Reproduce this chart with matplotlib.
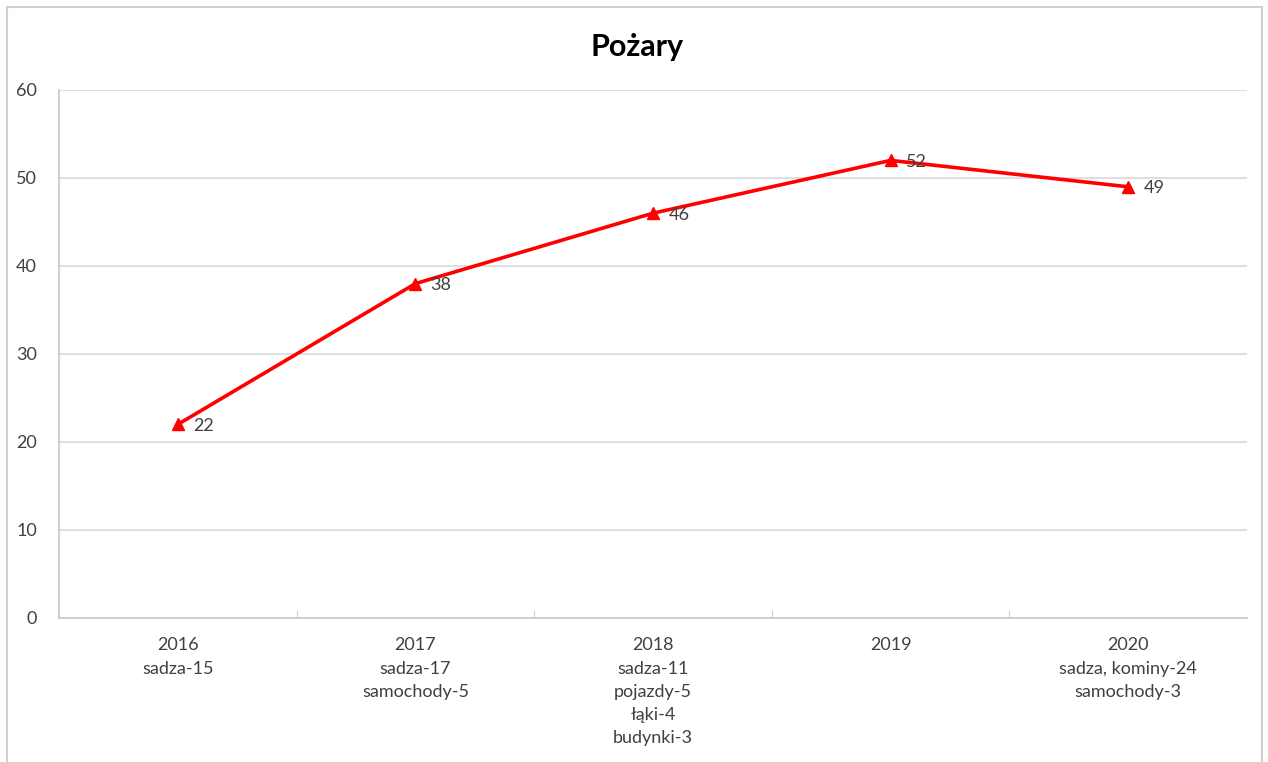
import matplotlib.pyplot as plt
from matplotlib.patches import Rectangle

# dane
lata = ['2016', '2017', '2018', '2019', '2020']
opisy = [
    'sadza-15',
    'sadza-17\nsamochody-5',
    'sadza-11\npojazdy-5\nłąki-4\nbudynki-3',
    '',
    'sadza, kominy-24\nsamochody-3',
]
pozary = [22, 38, 46, 52, 49]

plt.rcParams['font.family'] = ['Lato', 'DejaVu Sans']

fig = plt.figure(figsize=(12.68, 7.62), dpi=100)
ax = fig.add_axes([59 / 1268, 1 - 618 / 762, 1188 / 1268, 528 / 762])

# ramka wokół wykresu
fig.patches.append(Rectangle((7 / 1268, -0.01), 1255 / 1268, 1 - 7 / 762 + 0.01,
                             transform=fig.transFigure, fill=False,
                             edgecolor='#d0d0d0', linewidth=1.5))

x = list(range(len(lata)))
ax.plot(x, pozary, color='#ff0000', linewidth=2.6, marker='^',
        markersize=9, zorder=3)

# etykiety danych
for i in range(len(x)):
    ax.annotate(str(pozary[i]), (x[i], pozary[i]), xytext=(11, -1),
                textcoords='offset points', ha='left', va='center',
                fontsize=13, color='#404040')

ax.set_xlim(-0.5, len(lata) - 0.5)
ax.set_ylim(0, 60)
ax.set_yticks(range(0, 61, 10))
ax.set_xticks(x)
ax.set_xticklabels([l + ('\n' + o if o else '') for l, o in zip(lata, opisy)],
                   linespacing=1.55)
ax.set_xticks([i + 0.5 for i in x[:-1]], minor=True)

ax.tick_params(axis='x', which='major', length=0, pad=14, labelsize=13,
               labelcolor='#404040')
ax.tick_params(axis='x', which='minor', length=6, direction='in',
               color='#bfbfbf')
ax.tick_params(axis='y', length=0, pad=16, labelsize=13,
               labelcolor='#404040')

ax.grid(axis='y', color='#d9d9d9', linewidth=1.2)
ax.set_axisbelow(True)
for s in ['top', 'right']:
    ax.spines[s].set_visible(False)
for s in ['left', 'bottom']:
    ax.spines[s].set_color('#c8c8c8')
    ax.spines[s].set_linewidth(1.2)

fig.text(637 / 1268, 1 - 47 / 762, 'Pożary', ha='center', va='center',
         fontsize=22, fontweight='bold', color='#000000')

fig.savefig('out.png', dpi=100)
